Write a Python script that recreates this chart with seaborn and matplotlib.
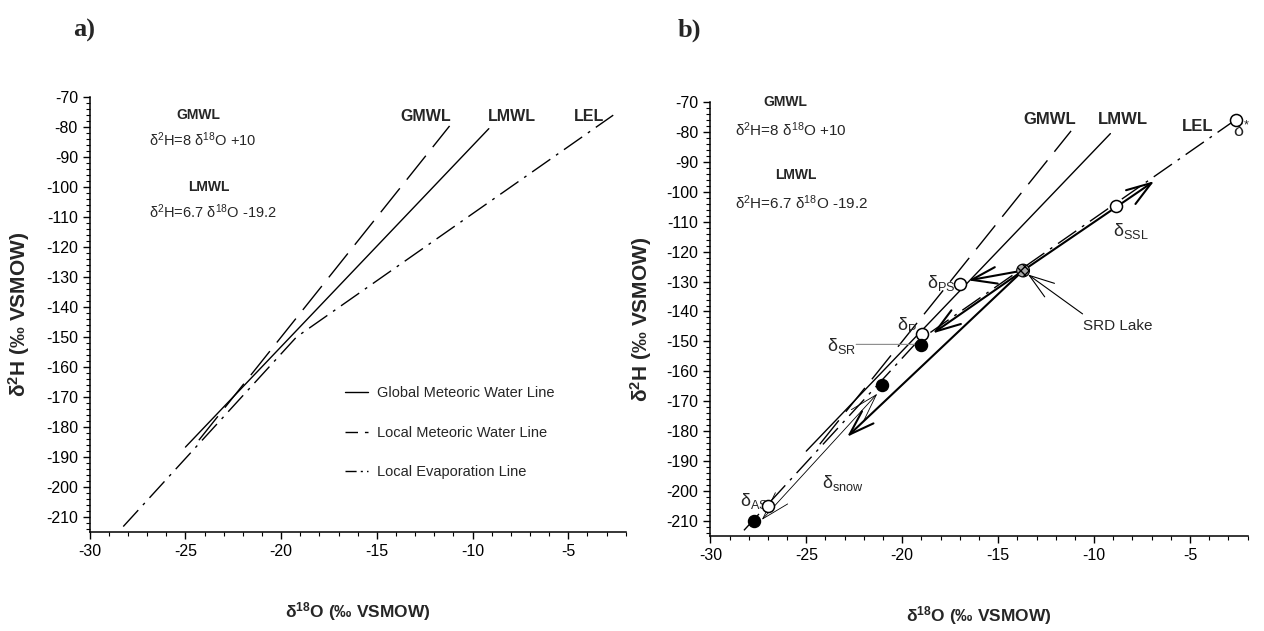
import pandas as pd
import matplotlib.pyplot as plt
import seaborn as sns
from matplotlib import font_manager as fm
from matplotlib.lines import Line2D
from matplotlib.ticker import MultipleLocator

# line end points (d18O, d2H)
gmwl_x = [-24.3, -11.2]
gmwl_y = [-184.4, -79.6]
lmwl_x = [-25.0, -9.15]
lmwl_y = [-186.7, -80.5]
lel_x = [-28.25, -19.2, -2.65]
lel_y = [-213.2, -150.0, -76.0]

# panel b sample points
open_names = ['d*', 'dSSL', 'dPS', 'dP', 'dAS']
open_x = [-2.61, -8.85, -16.97, -18.97, -27.0]
open_y = [-75.9, -104.8, -130.8, -147.5, -204.9]
filled_names = ['dSR', 'snow', 'low']
filled_x = [-19.0, -21.08, -27.75]
filled_y = [-151.2, -164.5, -210.2]
lake_x = [-13.7]
lake_y = [-126.3]

# arrows (start -> end)
thick_arrows = [
    ((-13.7, -126.3), (-6.87, -96.4)),
    ((-13.7, -126.3), (-16.55, -129.6)),
    ((-13.7, -126.3), (-18.4, -147.3)),
    ((-13.7, -126.3), (-22.87, -181.9)),
]
snow_arrow = ((-21.3, -167.5), (-27.32, -209.7))

xticks = [-30, -25, -20, -15, -10, -5]
yticks = list(range(-210, -69, 10))

sns.set_style('ticks')
names = {f.name for f in fm.fontManager.ttflist}
FONT = 'Liberation Sans' if 'Liberation Sans' in names else 'DejaVu Sans'
SERIF = 'Liberation Serif' if 'Liberation Serif' in names else 'DejaVu Serif'
plt.rcParams['font.family'] = [FONT, 'DejaVu Sans']
plt.rcParams['mathtext.default'] = 'regular'
plt.rcParams['axes.unicode_minus'] = False

GM_DASH = (0, (22, 8))
LEL_DASH = (0, (16, 5, 2, 5))


def draw_lines(ax):
    sns.lineplot(x=gmwl_x, y=gmwl_y, ax=ax, color='k', lw=1.0, linestyle=GM_DASH)
    sns.lineplot(x=lmwl_x, y=lmwl_y, ax=ax, color='k', lw=1.0)
    sns.lineplot(x=lel_x, y=lel_y, ax=ax, color='k', lw=1.0, linestyle=LEL_DASH)


def style_axes(ax, ylab_x, xlab_y):
    ax.set_xlim(-30, -2)
    ax.set_ylim(-215, -70)
    ax.set_xticks(xticks)
    ax.set_yticks(yticks)
    ax.xaxis.set_minor_locator(MultipleLocator(1))
    ax.yaxis.set_minor_locator(MultipleLocator(2))
    ax.tick_params(which='major', direction='out', length=5, width=1, labelsize=11.5, colors='k')
    ax.tick_params(which='minor', direction='out', length=3, width=0.8, colors='k')
    sns.despine(ax=ax)
    for s in ['left', 'bottom']:
        ax.spines[s].set_linewidth(1.1)
        ax.spines[s].set_color('k')
    ax.set_ylabel('δ$^{2}$H (‰ VSMOW)', fontsize=15, fontweight='bold')
    ax.set_xlabel('δ$^{18}$O (‰ VSMOW)', fontsize=12.5, fontweight='bold')
    ax.yaxis.set_label_coords(ylab_x, 0.5)
    ax.xaxis.set_label_coords(0.5, xlab_y)


fig = plt.figure(figsize=(12.64, 6.31), dpi=100)
ax1 = fig.add_axes([0.071, 0.157, 0.424, 0.689])
ax2 = fig.add_axes([0.562, 0.151, 0.425, 0.687])

# ---- panel a
draw_lines(ax1)
style_axes(ax1, -0.108, -0.156)
ax1.text(-24.35, -76.0, 'GMWL', fontsize=10, fontweight='bold', ha='center', va='center')
ax1.text(-26.9, -84.3, 'δ$^{2}$H=8 δ$^{18}$O +10', fontsize=10.5, ha='left', va='center')
ax1.text(-23.8, -99.9, 'LMWL', fontsize=10, fontweight='bold', ha='center', va='center')
ax1.text(-26.9, -108.2, 'δ$^{2}$H=6.7 δ$^{18}$O -19.2', fontsize=10.5, ha='left', va='center')
for lab, lx in zip(['GMWL', 'LMWL', 'LEL'], [-12.46, -7.92, -3.9]):
    ax1.text(lx, -76.6, lab, fontsize=11.5, fontweight='bold', ha='center', va='center')

handles = [Line2D([], [], color='k', lw=1.0),
           Line2D([], [], color='k', lw=1.0, linestyle=(0, (9, 5))),
           Line2D([], [], color='k', lw=1.0, linestyle=(0, (8, 3, 1.5, 3)))]
ax1.legend(handles, ['Global Meteoric Water Line', 'Local Meteoric Water Line',
                     'Local Evaporation Line'],
           loc='upper left', bbox_to_anchor=(0.476, 0.335), frameon=False,
           fontsize=10.5, handlelength=1.6, handletextpad=0.6, labelspacing=1.75,
           borderpad=0, borderaxespad=0)

# ---- panel b
draw_lines(ax2)
style_axes(ax2, -0.104, -0.157)

for (x0, y0), (x1, y1) in thick_arrows:
    ax2.annotate('', xy=(x1, y1), xytext=(x0, y0),
                 arrowprops=dict(arrowstyle='->,head_length=0.9,head_width=0.3',
                                 lw=1.5, color='k', shrinkA=0, shrinkB=0,
                                 mutation_scale=20))
(sx0, sy0), (sx1, sy1) = snow_arrow
ax2.annotate('', xy=(sx1, sy1), xytext=(sx0, sy0),
             arrowprops=dict(arrowstyle='<->,head_length=1.0,head_width=0.3',
                             lw=0.6, color='k', shrinkA=0, shrinkB=0, mutation_scale=20))
ax2.annotate('', xy=(-13.45, -127.6), xytext=(-10.6, -140.8),
             arrowprops=dict(arrowstyle='->,head_length=0.9,head_width=0.3',
                             lw=0.8, color='k', shrinkA=0, shrinkB=0, mutation_scale=20))
ax2.annotate('', xy=(-19.35, -151.0), xytext=(-22.4, -151.0),
             arrowprops=dict(arrowstyle='-', lw=0.8, color='#888888',
                             shrinkA=0, shrinkB=0))

sns.scatterplot(x=open_x, y=open_y, ax=ax2, s=75, facecolor='white',
                edgecolor='k', linewidth=1.1, zorder=5)
sns.scatterplot(x=filled_x, y=filled_y, ax=ax2, s=75, color='k',
                edgecolor='k', linewidth=1.0, zorder=5)
sns.scatterplot(x=lake_x, y=lake_y, ax=ax2, s=85, facecolor='#aaaaaa',
                edgecolor='k', linewidth=0.8, hatch='xxxx', zorder=6)

ax2.text(-26.09, -70.0, 'GMWL', fontsize=10, fontweight='bold', ha='center', va='center')
ax2.text(-28.73, -79.2, 'δ$^{2}$H=8 δ$^{18}$O +10', fontsize=11, ha='left', va='center')
ax2.text(-25.57, -94.2, 'LMWL', fontsize=10, fontweight='bold', ha='center', va='center')
ax2.text(-28.73, -103.6, 'δ$^{2}$H=6.7 δ$^{18}$O -19.2', fontsize=11, ha='left', va='center')
ax2.text(-12.32, -75.9, 'GMWL', fontsize=12, fontweight='bold', ha='center', va='center')
ax2.text(-8.47, -75.9, 'LMWL', fontsize=12, fontweight='bold', ha='center', va='center')
ax2.text(-4.6, -78.1, 'LEL', fontsize=12, fontweight='bold', ha='center', va='center')

ax2.text(-2.75, -79.5, 'δ$^{*}$', fontsize=13, ha='left', va='center')
ax2.text(-9.0, -113.0, 'δ$_{SSL}$', fontsize=13, ha='left', va='center')
ax2.text(-10.6, -144.7, 'SRD Lake', fontsize=11, ha='left', va='center')
ax2.text(-17.2, -130.5, 'δ$_{PS}$', fontsize=13, ha='right', va='center')
ax2.text(-19.25, -144.5, 'δ$_{P}$', fontsize=13, ha='right', va='center')
ax2.text(-22.4, -151.5, 'δ$_{SR}$', fontsize=13, ha='right', va='center')
ax2.text(-24.2, -197.5, 'δ$_{snow}$', fontsize=13, ha='left', va='center')
ax2.text(-26.95, -203.5, 'δ$_{AS}$', fontsize=13, ha='right', va='center')

fig.text(0.058, 0.952, 'a)', fontsize=19, fontweight='bold', family=SERIF, va='center')
fig.text(0.536, 0.952, 'b)', fontsize=19, fontweight='bold', family=SERIF, va='center')

fig.savefig('out.png', dpi=100)
